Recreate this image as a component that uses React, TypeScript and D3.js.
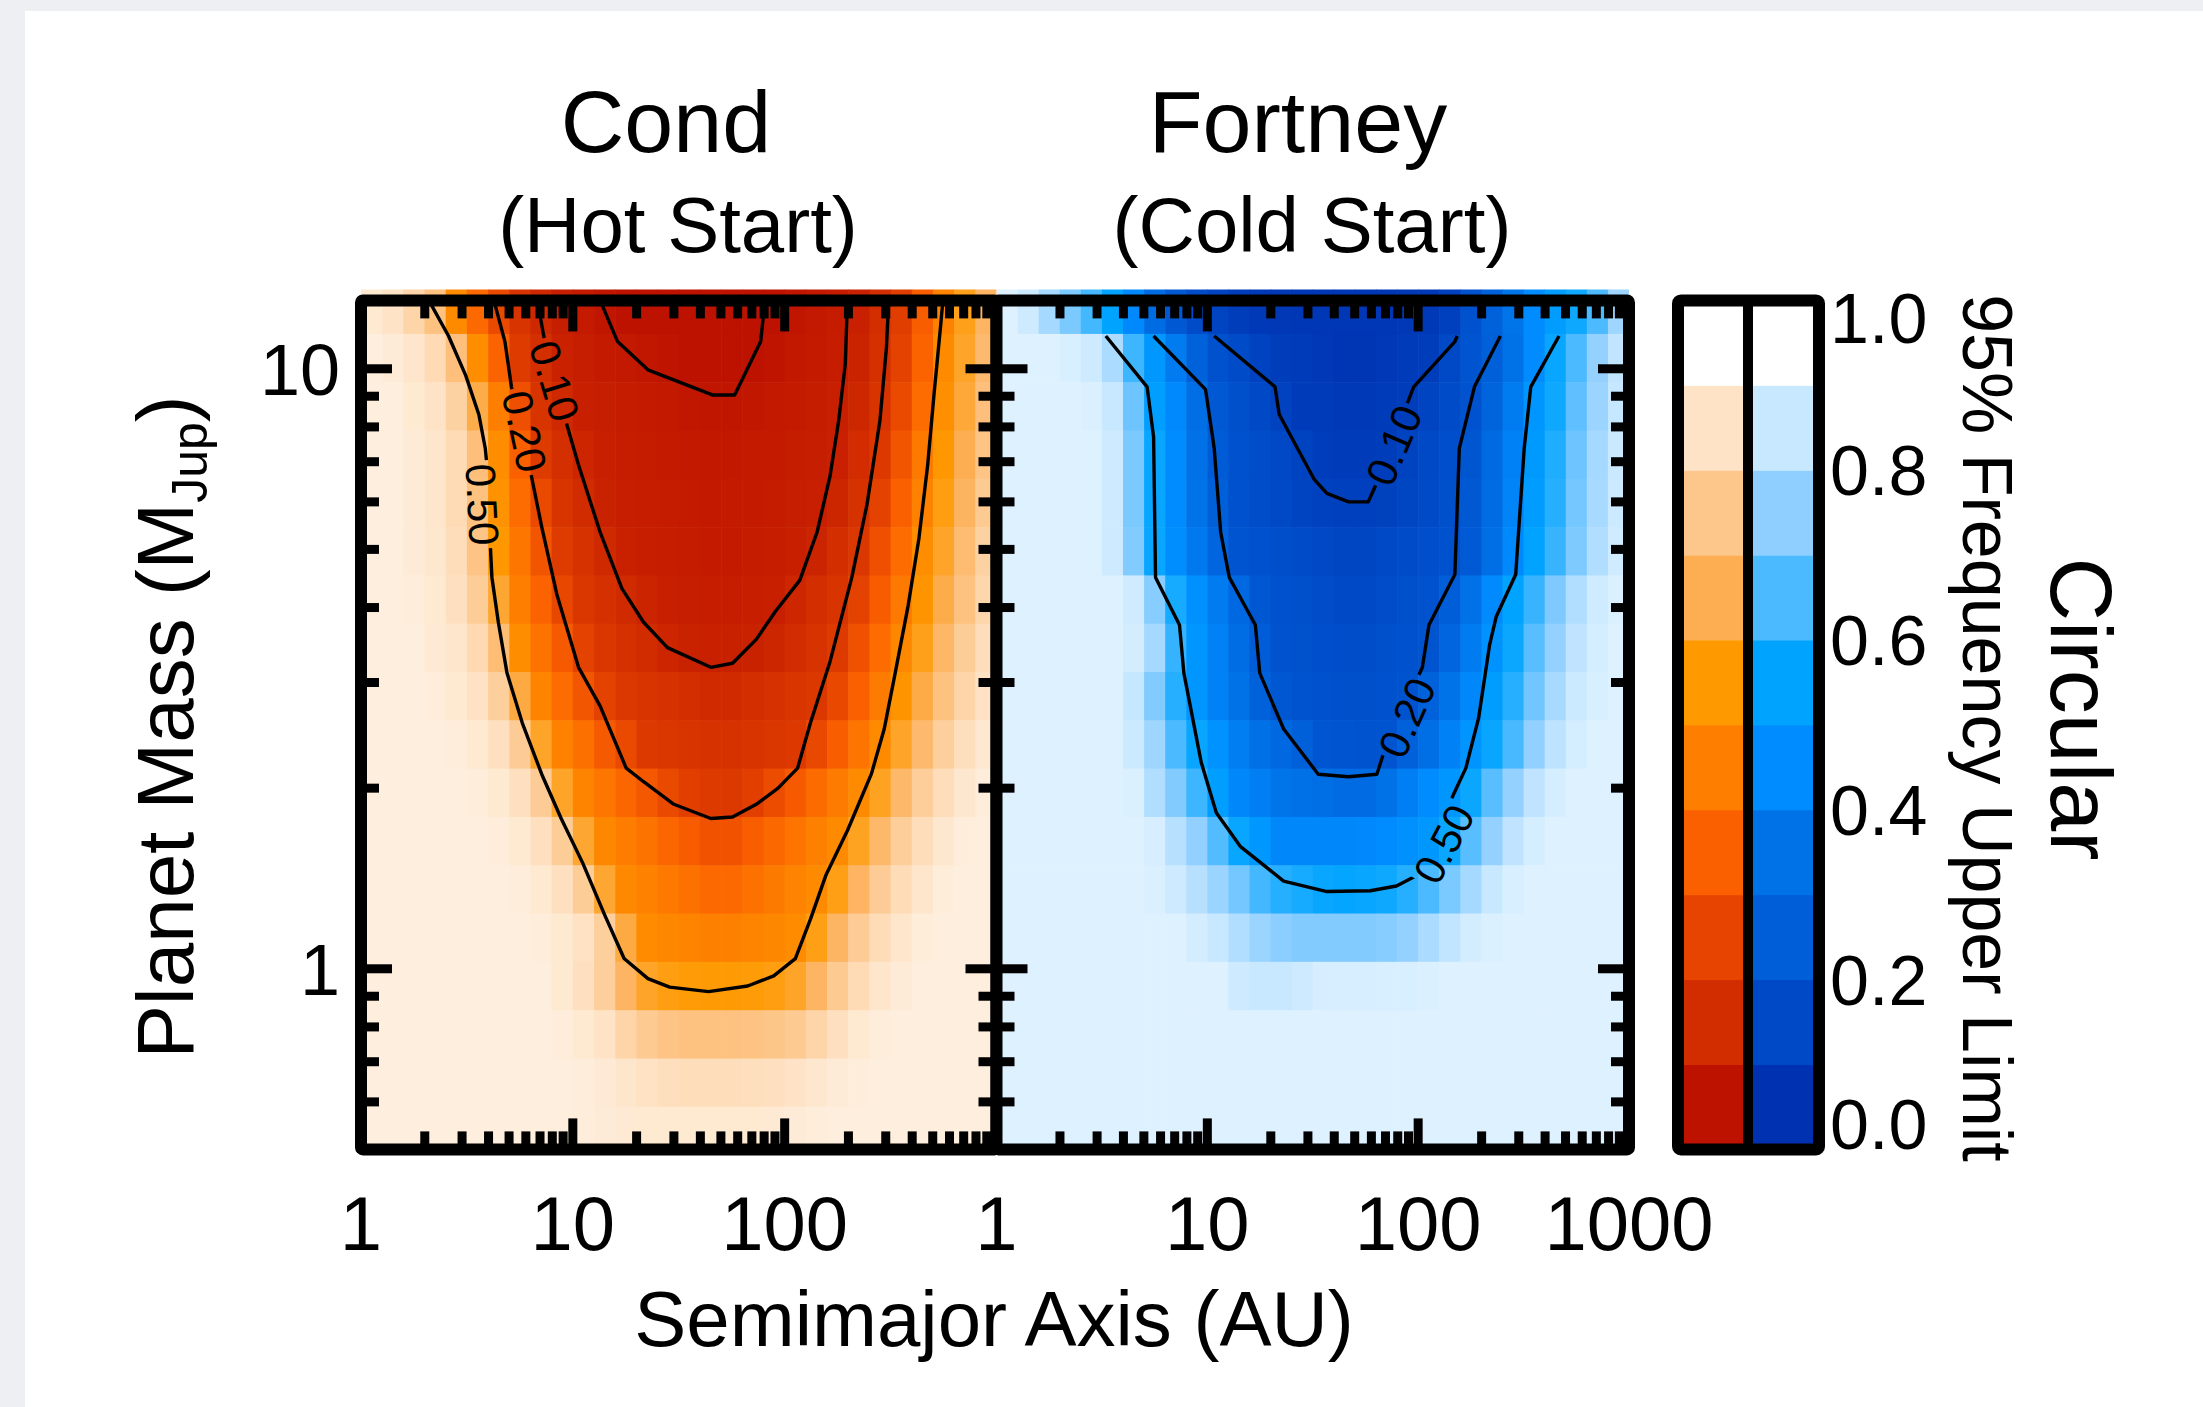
import React from 'react';
import * as d3 from 'd3';

const W = 2203;
const H = 1407;

// ---------- data ----------
// semimajor-axis cell centres (AU), 0.1 dex cells from 1 to 1000 AU
const axisCentersAU = [1.122, 1.413, 1.778, 2.239, 2.818, 3.548, 4.467, 5.623, 7.079, 8.913, 11.22, 14.13, 17.78, 22.39, 28.18, 35.48, 44.67, 56.23, 70.79, 89.13, 112.2, 141.3, 177.8, 223.9, 281.8, 354.8, 446.7, 562.3, 707.9, 891.3];
// planet-mass cell centres (MJup), top row first
const massCentersMJup = [12.54, 10.42, 8.656, 7.192, 5.975, 4.964, 4.124, 3.426, 2.847, 2.365, 1.965, 1.632, 1.356, 1.127, 0.936, 0.777, 0.646, 0.537];

// 95% frequency upper limit, Cond (hot start) — rows top→bottom, columns 1→1000 AU
const condGrid: number[][] = [
  [0.87,0.85,0.80,0.73,0.49,0.38,0.27,0.18,0.13,0.095,0.08,0.064,0.05,0.045,0.041,0.037,0.035,0.042,0.046,0.051,0.064,0.076,0.088,0.103,0.155,0.218,0.34,0.46,0.58,0.68],
  [0.89,0.88,0.86,0.82,0.72,0.50,0.36,0.21,0.16,0.11,0.093,0.085,0.077,0.068,0.059,0.05,0.046,0.046,0.051,0.061,0.072,0.082,0.092,0.113,0.164,0.24,0.36,0.49,0.60,0.70],
  [0.89,0.89,0.87,0.85,0.79,0.64,0.45,0.29,0.18,0.136,0.099,0.093,0.087,0.081,0.075,0.069,0.063,0.063,0.07,0.077,0.084,0.09,0.097,0.128,0.18,0.27,0.39,0.51,0.62,0.72],
  [0.89,0.89,0.88,0.86,0.82,0.72,0.50,0.35,0.21,0.16,0.12,0.097,0.092,0.087,0.082,0.077,0.072,0.073,0.078,0.084,0.089,0.094,0.10,0.148,0.198,0.31,0.43,0.54,0.65,0.74],
  [0.89,0.89,0.88,0.86,0.82,0.73,0.52,0.39,0.27,0.18,0.145,0.108,0.096,0.092,0.087,0.082,0.077,0.078,0.083,0.088,0.093,0.098,0.123,0.17,0.24,0.35,0.46,0.57,0.675,0.76],
  [0.89,0.89,0.88,0.865,0.83,0.74,0.54,0.42,0.31,0.21,0.17,0.137,0.105,0.096,0.092,0.087,0.082,0.082,0.087,0.092,0.097,0.116,0.155,0.194,0.29,0.39,0.50,0.60,0.705,0.79],
  [0.89,0.89,0.885,0.87,0.84,0.77,0.61,0.45,0.36,0.26,0.19,0.166,0.14,0.115,0.099,0.095,0.092,0.092,0.096,0.099,0.124,0.153,0.182,0.24,0.335,0.43,0.53,0.64,0.73,0.805],
  [0.89,0.89,0.89,0.875,0.86,0.815,0.71,0.50,0.41,0.33,0.24,0.19,0.166,0.144,0.121,0.108,0.105,0.104,0.108,0.123,0.149,0.175,0.205,0.295,0.39,0.48,0.58,0.685,0.77,0.83],
  [0.89,0.89,0.89,0.885,0.87,0.845,0.78,0.63,0.47,0.39,0.315,0.24,0.194,0.18,0.168,0.155,0.142,0.142,0.156,0.169,0.183,0.197,0.264,0.35,0.436,0.53,0.635,0.73,0.80,0.845],
  [0.89,0.89,0.89,0.89,0.885,0.87,0.84,0.765,0.60,0.46,0.40,0.33,0.27,0.20,0.19,0.18,0.172,0.172,0.18,0.19,0.199,0.265,0.34,0.416,0.49,0.60,0.70,0.78,0.835,0.867],
  [0.89,0.89,0.89,0.89,0.89,0.885,0.87,0.84,0.765,0.60,0.47,0.42,0.37,0.32,0.27,0.225,0.205,0.20,0.226,0.28,0.33,0.385,0.437,0.49,0.59,0.69,0.775,0.83,0.865,0.886],
  [0.89,0.89,0.89,0.89,0.89,0.89,0.885,0.87,0.84,0.77,0.61,0.48,0.445,0.41,0.37,0.335,0.30,0.30,0.34,0.376,0.415,0.454,0.49,0.59,0.69,0.775,0.83,0.865,0.886,0.89],
  [0.89,0.89,0.89,0.89,0.89,0.89,0.89,0.885,0.87,0.84,0.77,0.61,0.486,0.46,0.43,0.405,0.378,0.378,0.406,0.435,0.463,0.49,0.577,0.68,0.766,0.825,0.86,0.884,0.89,0.89],
  [0.89,0.89,0.89,0.89,0.89,0.89,0.89,0.89,0.885,0.87,0.845,0.78,0.63,0.495,0.48,0.468,0.455,0.455,0.47,0.48,0.496,0.577,0.68,0.766,0.825,0.86,0.884,0.89,0.89,0.89],
  [0.89,0.89,0.89,0.89,0.89,0.89,0.89,0.89,0.89,0.87,0.84,0.78,0.68,0.60,0.57,0.56,0.555,0.555,0.56,0.57,0.60,0.68,0.76,0.82,0.86,0.88,0.89,0.89,0.89,0.89],
  [0.89,0.89,0.89,0.89,0.89,0.89,0.89,0.89,0.89,0.885,0.87,0.85,0.80,0.76,0.74,0.73,0.73,0.73,0.735,0.745,0.76,0.80,0.84,0.87,0.885,0.89,0.89,0.89,0.89,0.89],
  [0.89,0.89,0.89,0.89,0.89,0.89,0.89,0.89,0.89,0.89,0.885,0.875,0.86,0.845,0.835,0.83,0.83,0.83,0.835,0.84,0.85,0.865,0.88,0.885,0.89,0.89,0.89,0.89,0.89,0.89],
  [0.89,0.89,0.89,0.89,0.89,0.89,0.89,0.89,0.89,0.89,0.885,0.88,0.875,0.87,0.87,0.87,0.87,0.87,0.87,0.875,0.88,0.885,0.89,0.89,0.89,0.89,0.89,0.89,0.89,0.89],
];

// 95% frequency upper limit, Fortney (cold start)
const fortneyGrid: number[][] = [
  [0.89,0.86,0.79,0.72,0.64,0.55,0.44,0.32,0.22,0.16,0.13,0.10,0.085,0.078,0.075,0.075,0.075,0.075,0.075,0.078,0.085,0.11,0.19,0.27,0.36,0.45,0.52,0.57,0.65,0.78],
  [0.89,0.89,0.89,0.88,0.86,0.80,0.63,0.50,0.385,0.27,0.19,0.158,0.127,0.099,0.09,0.08,0.07,0.066,0.08,0.09,0.10,0.15,0.20,0.26,0.35,0.45,0.56,0.65,0.76,0.84],
  [0.89,0.89,0.89,0.89,0.885,0.85,0.70,0.53,0.44,0.33,0.22,0.178,0.15,0.122,0.097,0.09,0.082,0.084,0.092,0.10,0.131,0.162,0.194,0.283,0.386,0.49,0.57,0.68,0.77,0.845],
  [0.89,0.89,0.89,0.89,0.89,0.86,0.72,0.56,0.45,0.345,0.24,0.187,0.166,0.144,0.123,0.099,0.096,0.096,0.099,0.124,0.15,0.176,0.21,0.31,0.41,0.51,0.59,0.70,0.79,0.853],
  [0.89,0.89,0.89,0.89,0.89,0.86,0.72,0.56,0.45,0.355,0.26,0.19,0.17,0.15,0.13,0.117,0.111,0.11,0.115,0.132,0.156,0.18,0.22,0.32,0.42,0.516,0.60,0.71,0.795,0.855],
  [0.89,0.89,0.89,0.89,0.89,0.86,0.73,0.56,0.46,0.374,0.287,0.20,0.187,0.173,0.16,0.147,0.134,0.134,0.148,0.162,0.176,0.19,0.231,0.334,0.438,0.544,0.624,0.726,0.81,0.862],
  [0.89,0.89,0.89,0.89,0.89,0.89,0.865,0.74,0.58,0.47,0.386,0.30,0.217,0.19,0.177,0.164,0.151,0.151,0.165,0.179,0.193,0.248,0.345,0.442,0.544,0.624,0.726,0.81,0.862,0.885],
  [0.89,0.89,0.89,0.89,0.89,0.89,0.87,0.79,0.62,0.49,0.41,0.325,0.242,0.195,0.186,0.176,0.167,0.167,0.178,0.188,0.20,0.287,0.384,0.48,0.564,0.67,0.76,0.836,0.874,0.89],
  [0.89,0.89,0.89,0.89,0.89,0.89,0.845,0.73,0.60,0.49,0.41,0.35,0.27,0.215,0.196,0.19,0.183,0.181,0.188,0.199,0.271,0.352,0.433,0.522,0.60,0.708,0.794,0.856,0.88,0.89],
  [0.89,0.89,0.89,0.89,0.89,0.89,0.855,0.78,0.65,0.56,0.48,0.395,0.34,0.30,0.262,0.205,0.20,0.197,0.20,0.265,0.337,0.41,0.482,0.56,0.645,0.755,0.832,0.872,0.89,0.89],
  [0.89,0.89,0.89,0.89,0.89,0.89,0.885,0.81,0.73,0.63,0.53,0.43,0.395,0.36,0.345,0.33,0.315,0.315,0.35,0.40,0.45,0.49,0.564,0.67,0.76,0.836,0.874,0.89,0.89,0.89],
  [0.89,0.89,0.89,0.89,0.89,0.89,0.89,0.875,0.82,0.755,0.66,0.56,0.50,0.43,0.43,0.43,0.43,0.435,0.45,0.47,0.50,0.564,0.67,0.76,0.836,0.874,0.89,0.89,0.89,0.89],
  [0.89,0.89,0.89,0.89,0.89,0.89,0.89,0.885,0.86,0.82,0.77,0.71,0.64,0.60,0.58,0.56,0.555,0.56,0.57,0.60,0.65,0.72,0.79,0.85,0.88,0.89,0.89,0.89,0.89,0.89],
  [0.89,0.89,0.89,0.89,0.89,0.89,0.89,0.89,0.89,0.87,0.85,0.81,0.77,0.745,0.73,0.73,0.73,0.73,0.74,0.76,0.80,0.84,0.87,0.885,0.89,0.89,0.89,0.89,0.89,0.89],
  [0.89,0.89,0.89,0.89,0.89,0.89,0.89,0.89,0.89,0.89,0.89,0.86,0.85,0.85,0.86,0.875,0.875,0.875,0.88,0.88,0.885,0.89,0.89,0.89,0.89,0.89,0.89,0.89,0.89,0.89],
  [0.89,0.89,0.89,0.89,0.89,0.89,0.89,0.89,0.89,0.89,0.89,0.89,0.89,0.89,0.89,0.89,0.89,0.89,0.89,0.89,0.89,0.89,0.89,0.89,0.89,0.89,0.89,0.89,0.89,0.89],
  [0.89,0.89,0.89,0.89,0.89,0.89,0.89,0.89,0.89,0.89,0.89,0.89,0.89,0.89,0.89,0.89,0.89,0.89,0.89,0.89,0.89,0.89,0.89,0.89,0.89,0.89,0.89,0.89,0.89,0.89],
  [0.89,0.89,0.89,0.89,0.89,0.89,0.89,0.89,0.89,0.89,0.89,0.89,0.89,0.89,0.89,0.89,0.89,0.89,0.89,0.89,0.89,0.89,0.89,0.89,0.89,0.89,0.89,0.89,0.89,0.89],
];

// contour lines: [semimajor axis (AU), mass (MJup)]
const condContour005: [number, number][] = [[13.46,13.0],[16.26,11.10],[22.62,9.96],[45.87,9.04],[58.08,9.04],[77.02,11.10],[80.80,13.0]];
const condContour010: [number, number][] = [[6.80,13.0],[7.29,11.34],[9.24,8.21],[10.64,6.91],[13.46,5.34],[17.06,4.30],[21.58,3.78],[27.97,3.43],[44.83,3.18],[56.75,3.23],[73.45,3.54],[90.90,3.95],[117.8,4.44],[142.2,5.34],[163.7,6.62],[180.0,8.21],[193.2,10.18],[197.9,13.0]];
const condContour020: [number, number][] = [[4.24,13.0],[4.78,11.10],[5.13,9.33],[6.34,6.69],[7.13,5.45],[8.40,4.21],[10.64,3.18],[13.46,2.74],[17.86,2.16],[21.58,2.05],[29.99,1.88],[44.83,1.78],[56.75,1.79],[73.45,1.88],[93.11,2.00],[115.1,2.16],[132.4,2.57],[163.7,3.25],[207.5,4.49],[244.7,5.94],[281.8,8.21],[302.4,10.86],[309.7,13.0]];
const condContour050: [number, number][] = [[2.09,13.0],[2.59,11.34],[3.12,9.75],[3.60,8.39],[3.86,7.37],[4.05,6.20],[4.05,5.34],[4.15,4.49],[4.45,3.78],[4.89,3.11],[5.77,2.57],[7.13,2.11],[8.81,1.78],[11.14,1.50],[14.13,1.23],[17.46,1.04],[22.62,0.963],[28.64,0.932],[43.75,0.916],[66.83,0.936],[88.82,0.973],[112.3,1.04],[132.4,1.21],[156.3,1.43],[197.9,1.70],[256.4,2.11],[295.1,2.51],[332.4,3.11],[382.8,4.03],[430.5,5.22],[473.2,6.91],[508.2,9.14],[545.3,11.84],[558.5,13.0]];

const fortneyContour010: [number, number][] = [[10.78,11.34],[20.94,9.33],[21.93,8.39],[32.06,6.55],[36.90,6.20],[46.77,6.00],[57.94,6.00],[62.23,6.34],[88.72,8.75],[95.28,9.33],[149.3,11.10],[153.1,11.34]];
const fortneyContour020: [number, number][] = [[5.56,11.34],[9.80,9.24],[10.78,7.37],[11.57,5.34],[12.71,4.49],[16.90,3.74],[17.73,3.11],[23.01,2.51],[33.57,2.11],[46.77,2.09],[63.68,2.11],[68.39,2.28],[104.7,3.18],[112.5,3.74],[149.3,4.54],[156.7,7.37],[184.9,9.33],[245.5,11.34]];
const fortneyContour050: [number, number][] = [[3.30,11.34],[5.18,9.33],[5.56,7.70],[5.68,4.49],[7.38,3.74],[7.74,3.11],[9.35,2.21],[11.03,1.82],[14.32,1.60],[23.01,1.40],[36.90,1.345],[59.29,1.349],[78.89,1.374],[100,1.435],[145.9,1.94],[168.3,2.16],[193.6,2.62],[218.3,3.47],[234.4,3.86],[290.1,4.54],[318.4,7.37],[342.0,9.33],[465.6,11.34]];

// contour labels: text, position (AU, MJup), text angle (deg)
const condContourLabels = [
  { text: '0.10', a: 8.18, m: 9.54, angle: 73 },
  { text: '0.20', a: 5.90, m: 7.86, angle: 78 },
  { text: '0.50', a: 3.73, m: 5.94, angle: 87 },
];
const fortneyContourLabels = [
  { text: '0.10', a: 76.9, m: 7.45, angle: -67 },
  { text: '0.20', a: 88.6, m: 2.62, angle: -66 },
  { text: '0.50', a: 132.7, m: 1.614, angle: -62 },
];

// colour table: one colour per 0.1 bin, 0.0–0.1 first
const orangeLevels = ['#bd1200', '#d22d00', '#e64400', '#fa6000', '#fe7f00', '#fe9a00', '#fdae52', '#fdc78c', '#fee3c6', '#ffffff'];
const blueLevels = ['#0031b0', '#0049c6', '#005ed8', '#0072e8', '#008cff', '#00a4ff', '#4cbaff', '#8ecfff', '#c8e8ff', '#ffffff'];
const colorbarTicks = [0, 0.2, 0.4, 0.6, 0.8, 1.0];
const colorbarTickLabels = ['0.0', '0.2', '0.4', '0.6', '0.8', '1.0'];

const xMajorTicks = [1, 10, 100, 1000];
const xMinorTicks = [2, 3, 4, 5, 6, 7, 8, 9, 20, 30, 40, 50, 60, 70, 80, 90, 200, 300, 400, 500, 600, 700, 800, 900];
const yMajorTicks = [1, 10];
const yMinorTicks = [0.6, 0.7, 0.8, 0.9, 2, 3, 4, 5, 6, 7, 8, 9];
const yTickLabels = ['1', '10'];
const condXTickValues = [1, 10, 100];
const condXTickLabels = ['1', '10', '100'];
const fortneyXTickValues = [1, 10, 100, 1000];
const fortneyXTickLabels = ['1', '10', '100', '1000'];

// ---------- layout ----------
const FONT = "'Liberation Sans', Arial, Helvetica, sans-serif";
const TOP = 300.4;
const BOTTOM = 1149.4;
const FRAME = 12;
const TICK_W = 9;
const MAJOR = 31;
const MINOR = 18;
const LABEL_FS = 42;

const yScale = d3.scaleLog().domain([0.5, 13]).range([BOTTOM, TOP]);

function logEdges(centers: number[]) {
  const l = centers.map((c) => Math.log10(c));
  const e: number[] = [l[0] - (l[1] - l[0]) / 2];
  for (let i = 1; i < l.length; i++) e.push((l[i - 1] + l[i]) / 2);
  e.push(l[l.length - 1] + (l[l.length - 1] - l[l.length - 2]) / 2);
  return e.map((v) => Math.pow(10, v));
}
const xEdges = logEdges(axisCentersAU);
const yEdges = logEdges(massCentersMJup);

function levelScale(colors: string[]) {
  return d3
    .scaleLinear<string>()
    .domain(colors.map((_, i) => i * 0.1 + 0.05))
    .range(colors)
    .interpolate(d3.interpolateRgb)
    .clamp(true);
}

interface PanelDef {
  key: string;
  title: string;
  subtitle: string;
  titleX: number;
  subX: number;
  x0: number;
  x1: number;
  grid: number[][];
  colors: string[];
  contours: [number, number][][];
  labels: { text: string; a: number; m: number; angle: number }[];
  tickValues: number[];
  tickLabels: string[];
}

const panels: PanelDef[] = [
  {
    key: 'cond', title: 'Cond', subtitle: '(Hot Start)', titleX: 666, subX: 678,
    x0: 361, x1: 996.5, grid: condGrid, colors: orangeLevels,
    contours: [condContour005, condContour010, condContour020, condContour050],
    labels: condContourLabels, tickValues: condXTickValues, tickLabels: condXTickLabels,
  },
  {
    key: 'fortney', title: 'Fortney', subtitle: '(Cold Start)', titleX: 1298, subX: 1312,
    x0: 996.5, x1: 1629, grid: fortneyGrid, colors: blueLevels,
    contours: [fortneyContour010, fortneyContour020, fortneyContour050],
    labels: fortneyContourLabels, tickValues: fortneyXTickValues, tickLabels: fortneyXTickLabels,
  },
];

function Panel({ p }: { p: PanelDef }) {
  const xs = d3.scaleLog().domain([1, 1000]).range([p.x0, p.x1]);
  const color = levelScale(p.colors);
  const line = d3
    .line<[number, number]>()
    .x((d) => xs(d[0]))
    .y((d) => yScale(d[1]))
    .curve(d3.curveLinear);

  const cells: JSX.Element[] = [];
  p.grid.forEach((row, j) => {
    const ya = yScale(yEdges[j]);
    const yb = yScale(yEdges[j + 1]);
    row.forEach((v, i) => {
      const xa = xs(xEdges[i]);
      const xb = xs(xEdges[i + 1]);
      cells.push(
        <rect key={`${j}-${i}`} x={xa} y={Math.min(ya, yb)} width={xb - xa + 0.6} height={Math.abs(yb - ya) + 0.6} fill={color(v)} />
      );
    });
  });

  const xTicks: JSX.Element[] = [];
  const inner = (v: number) => v > 1.0001 && v < 999.9;
  [...xMajorTicks.map((v) => [v, MAJOR]), ...xMinorTicks.map((v) => [v, MINOR])].forEach(([v, len], k) => {
    if (!inner(v)) return;
    const x = xs(v);
    xTicks.push(<line key={`b${k}`} x1={x} x2={x} y1={BOTTOM} y2={BOTTOM - len} />);
    xTicks.push(<line key={`t${k}`} x1={x} x2={x} y1={TOP} y2={TOP + len} />);
  });
  const yTicks: JSX.Element[] = [];
  [...yMajorTicks.map((v) => [v, MAJOR]), ...yMinorTicks.map((v) => [v, MINOR])].forEach(([v, len], k) => {
    const y = yScale(v);
    yTicks.push(<line key={`l${k}`} x1={p.x0} x2={p.x0 + len} y1={y} y2={y} />);
    yTicks.push(<line key={`r${k}`} x1={p.x1} x2={p.x1 - len} y1={y} y2={y} />);
  });

  const gapW = LABEL_FS * 2.1;
  const gapH = LABEL_FS * 0.85;

  return (
    <g>
      <defs>
        <clipPath id={`clip-${p.key}`}>
          <rect x={p.x0} y={TOP - 11} width={p.x1 - p.x0} height={BOTTOM - TOP + 11} />
        </clipPath>
        <mask id={`mask-${p.key}`} maskUnits="userSpaceOnUse" x={0} y={0} width={W} height={H}>
          <rect x={0} y={0} width={W} height={H} fill="white" />
          {p.labels.map((l) => (
            <rect
              key={l.text}
              transform={`translate(${xs(l.a)},${yScale(l.m)}) rotate(${l.angle})`}
              x={-gapW / 2}
              y={-gapH / 2}
              width={gapW}
              height={gapH}
              fill="black"
            />
          ))}
        </mask>
      </defs>
      <g clipPath={`url(#clip-${p.key})`}>{cells}</g>
      <g clipPath={`url(#clip-${p.key})`} mask={`url(#mask-${p.key})`}>
        {p.contours.map((c, k) => (
          <path key={k} d={line(c) || ''} fill="none" stroke="#000" strokeWidth={3.4} strokeLinejoin="round" />
        ))}
      </g>
      {p.labels.map((l) => (
        <text
          key={l.text}
          transform={`translate(${xs(l.a)},${yScale(l.m)}) rotate(${l.angle})`}
          textAnchor="middle"
          dominantBaseline="central"
          fontFamily={FONT}
          fontSize={LABEL_FS}
          fill="#000"
        >
          {l.text}
        </text>
      ))}
      <g stroke="#000" strokeWidth={TICK_W}>
        {xTicks}
        {yTicks}
      </g>
      <rect x={p.x0} y={TOP} width={p.x1 - p.x0} height={BOTTOM - TOP} fill="none" stroke="#000" strokeWidth={FRAME} rx={2} />
      <text x={p.titleX} y={152} textAnchor="middle" fontFamily={FONT} fontSize={88}>{p.title}</text>
      <text x={p.subX} y={252} textAnchor="middle" fontFamily={FONT} fontSize={78}>{p.subtitle}</text>
      {p.tickValues.map((v, k) => (
        <text key={k} x={xs(v)} y={1250} textAnchor="middle" fontFamily={FONT} fontSize={76}>
          {p.tickLabels[k]}
        </text>
      ))}
    </g>
  );
}

function Colorbar() {
  const x0 = 1678, xm = 1748, x1 = 1819;
  const cy = d3.scaleLinear().domain([0, 1]).range([BOTTOM, TOP]);
  const bins = d3.range(10);
  return (
    <g>
      {bins.map((b) => (
        <g key={b}>
          <rect x={x0} y={cy((b + 1) / 10)} width={xm - x0} height={cy(b / 10) - cy((b + 1) / 10) + 0.5} fill={orangeLevels[b]} />
          <rect x={xm} y={cy((b + 1) / 10)} width={x1 - xm} height={cy(b / 10) - cy((b + 1) / 10) + 0.5} fill={blueLevels[b]} />
        </g>
      ))}
      <line x1={xm} x2={xm} y1={TOP} y2={BOTTOM} stroke="#000" strokeWidth={10} />
      <rect x={x0} y={TOP} width={x1 - x0} height={BOTTOM - TOP} fill="none" stroke="#000" strokeWidth={FRAME} rx={3} />
      {colorbarTicks.map((v, k) => {
        let y = cy(v) + 25;
        if (v === 1) y = 343;
        if (v === 0) y = 1149;
        return (
          <text key={k} x={1830} y={y} fontFamily={FONT} fontSize={70}>
            {colorbarTickLabels[k]}
          </text>
        );
      })}
      <text transform="translate(1963,728) rotate(90)" textAnchor="middle" fontFamily={FONT} fontSize={70}>
        95% Frequency Upper Limit
      </text>
      <text transform="translate(2051,709) rotate(90)" textAnchor="middle" fontFamily={FONT} fontSize={88}>
        Circular
      </text>
    </g>
  );
}

export default function App() {
  return (
    <div style={{ position: 'absolute', left: 0, top: 0, width: W, height: H }}>
      <svg width={W} height={H} style={{ display: 'block' }}>
        <rect x={0} y={0} width={W} height={H} fill="#edeff2" />
        <rect x={25} y={11} width={W - 25} height={H - 11} fill="#ffffff" />
        {panels.map((p) => (
          <Panel key={p.key} p={p} />
        ))}
        <Colorbar />
        {yMajorTicks.map((v, k) => (
          <text key={k} x={340} y={yScale(v) + 26} textAnchor="end" fontFamily={FONT} fontSize={72}>
            {yTickLabels[k]}
          </text>
        ))}
        <text transform="translate(193,727) rotate(-90)" textAnchor="middle" fontFamily={FONT} fontSize={80}>
          Planet Mass (M
          <tspan fontSize={50} dy={14}>Jup</tspan>
          <tspan dy={-14}>)</tspan>
        </text>
        <text x={994} y={1346} textAnchor="middle" fontFamily={FONT} fontSize={78}>
          Semimajor Axis (AU)
        </text>
      </svg>
    </div>
  );
}
